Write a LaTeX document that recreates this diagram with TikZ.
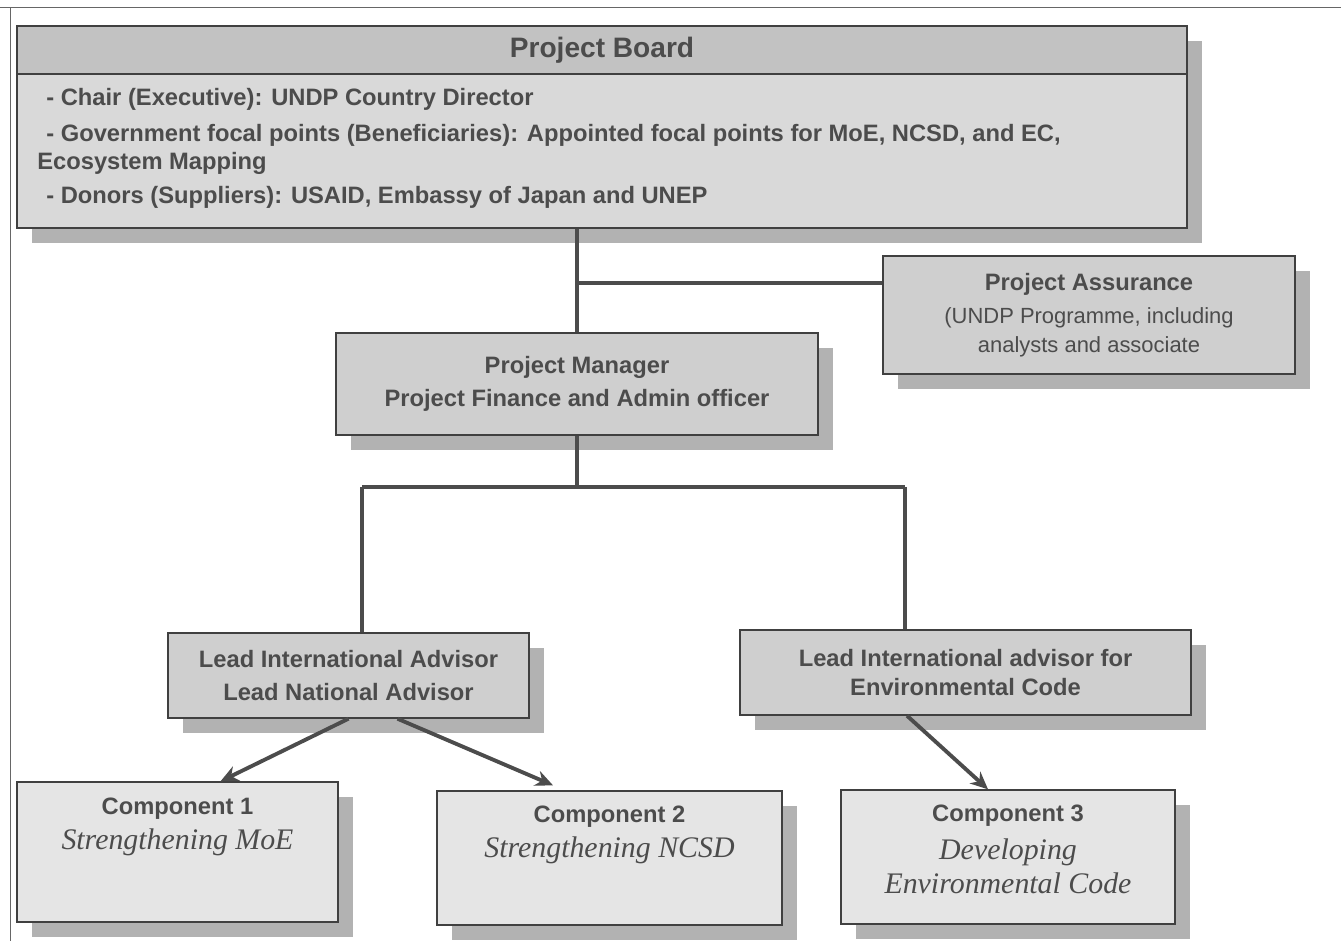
\documentclass[tikz,border=0pt]{standalone}
\usepackage{fontspec}
\setmainfont{Liberation Sans}
\newfontfamily\compserif{Liberation Serif}
\newcommand{\compit}{\fontsize{17}{19}\selectfont\compserif\mdseries\itshape}
\newcommand{\subreg}{\fontsize{12.5}{14}\selectfont\mdseries}
\usepackage{tikz}
\usetikzlibrary{arrows.meta, positioning, shadows}

\begin{document}
\begin{tikzpicture}[x=0.02cm, y=-0.02cm,
  box/.style={draw=black!75, line width=0.8pt, fill=gray!38, inner sep=2pt,
    drop shadow={shadow xshift=0.3cm, shadow yshift=-0.3cm, fill=gray!60, opacity=1}},
  compbox/.style={box, fill=gray!20},
  lbl/.style={font=\fontsize{13.5}{16}\selectfont\bfseries, text=black!70, align=center},
  boardline/.style={lbl, anchor=west, inner sep=0pt, align=left},
  conn/.style={draw=black!70, line width=2.2pt},
  arr/.style={conn, -{Stealth[length=10pt, width=9pt]}}]
  \useasboundingbox (0,0) rectangle (1341,941);
  % page frame (top and left rule of the scan)
  \draw[black!60, thin] (0,7) -- (1341,7);
  \draw[black!60, thin] (10,7) -- (10,941);

  % Project Board
  \node[box, fill=gray!30, minimum width=23.4cm, minimum height=4.04cm] (board) at (602,127) {};
  \node[draw=black!75, line width=0.8pt, fill=gray!48, minimum width=23.4cm, minimum height=0.96cm,
    font=\fontsize{16}{19}\selectfont\bfseries, text=black!70] (boardhead) at (602,50) {Project Board};
  \node[boardline] (chair) at (46,99) {- Chair (Executive): UNDP Country Director};
  \node[boardline] (govt) at (46,135) {- Government focal points (Beneficiaries): Appointed focal points for MoE, NCSD, and EC,};
  \node[boardline] (govtb) at (37,163) {Ecosystem Mapping};
  \node[boardline] (donors) at (46,197) {- Donors (Suppliers): USAID, Embassy of Japan and UNEP};

  % Project Assurance
  \node[box, lbl, minimum width=8.24cm, minimum height=2.36cm] (pa) at (1089,315)
    {Project Assurance\\[3pt]\subreg (UNDP Programme, including\\\subreg analysts and associate};

  % Project Manager
  \node[box, lbl, minimum width=9.64cm, minimum height=2.04cm] (pm) at (577,384)
    {Project Manager\\[3pt]Project Finance and Admin officer};

  % advisors
  \node[box, lbl, minimum width=7.22cm, minimum height=1.7cm] (lia) at (348.5,675.5)
    {Lead International Advisor\\[3pt]Lead National Advisor};
  \node[box, lbl, minimum width=9.02cm, minimum height=1.7cm] (lie) at (965.5,672.5)
    {Lead International advisor for\\Environmental Code};

  % components
  \node[compbox, minimum width=6.42cm, minimum height=2.8cm] (comp1) at (177.5,852) {};
  \node[lbl, inner sep=0pt, below=0.32cm of comp1.north] (comp1txt)
    {Component 1\\[4pt]{\compit Strengthening MoE}};
  \node[compbox, minimum width=6.9cm, minimum height=2.68cm] (comp2) at (609.5,858) {};
  \node[lbl, inner sep=0pt, below=0.3cm of comp2.north] (comp2txt)
    {Component 2\\[4pt]{\compit Strengthening NCSD}};
  \node[compbox, minimum width=6.68cm, minimum height=2.68cm] (comp3) at (1008,857) {};
  \node[lbl, inner sep=0pt, below=0.3cm of comp3.north] (comp3txt)
    {Component 3\\[6pt]{\compit Developing}\\[3pt]{\compit Environmental Code}};

  % connectors
  \coordinate (branch) at (577,283);
  \coordinate (dropA) at (362,487);
  \coordinate (dropB) at (905,487);
  \draw[conn] (pm.north) -- (pm.north |- board.south);
  \draw[conn] (branch) -- (branch -| pa.west);
  \draw[conn] (pm.south) -- (pm.south |- dropA);
  \draw[conn] (dropA) -- (dropB);
  \draw[conn] (dropA) -- (dropA |- lia.north);
  \draw[conn] (dropB) -- (dropB |- lie.north);
  \draw[arr] (lia.south) -- ([xshift=0.86cm]comp1.north);
  \draw[arr] ([xshift=0.98cm]lia.south) -- ([xshift=-1.13cm, yshift=0.1cm]comp2.north);
  \draw[arr] ([xshift=-1.17cm]lie.south) -- ([xshift=-0.4cm]comp3.north);
\end{tikzpicture}
\end{document}
